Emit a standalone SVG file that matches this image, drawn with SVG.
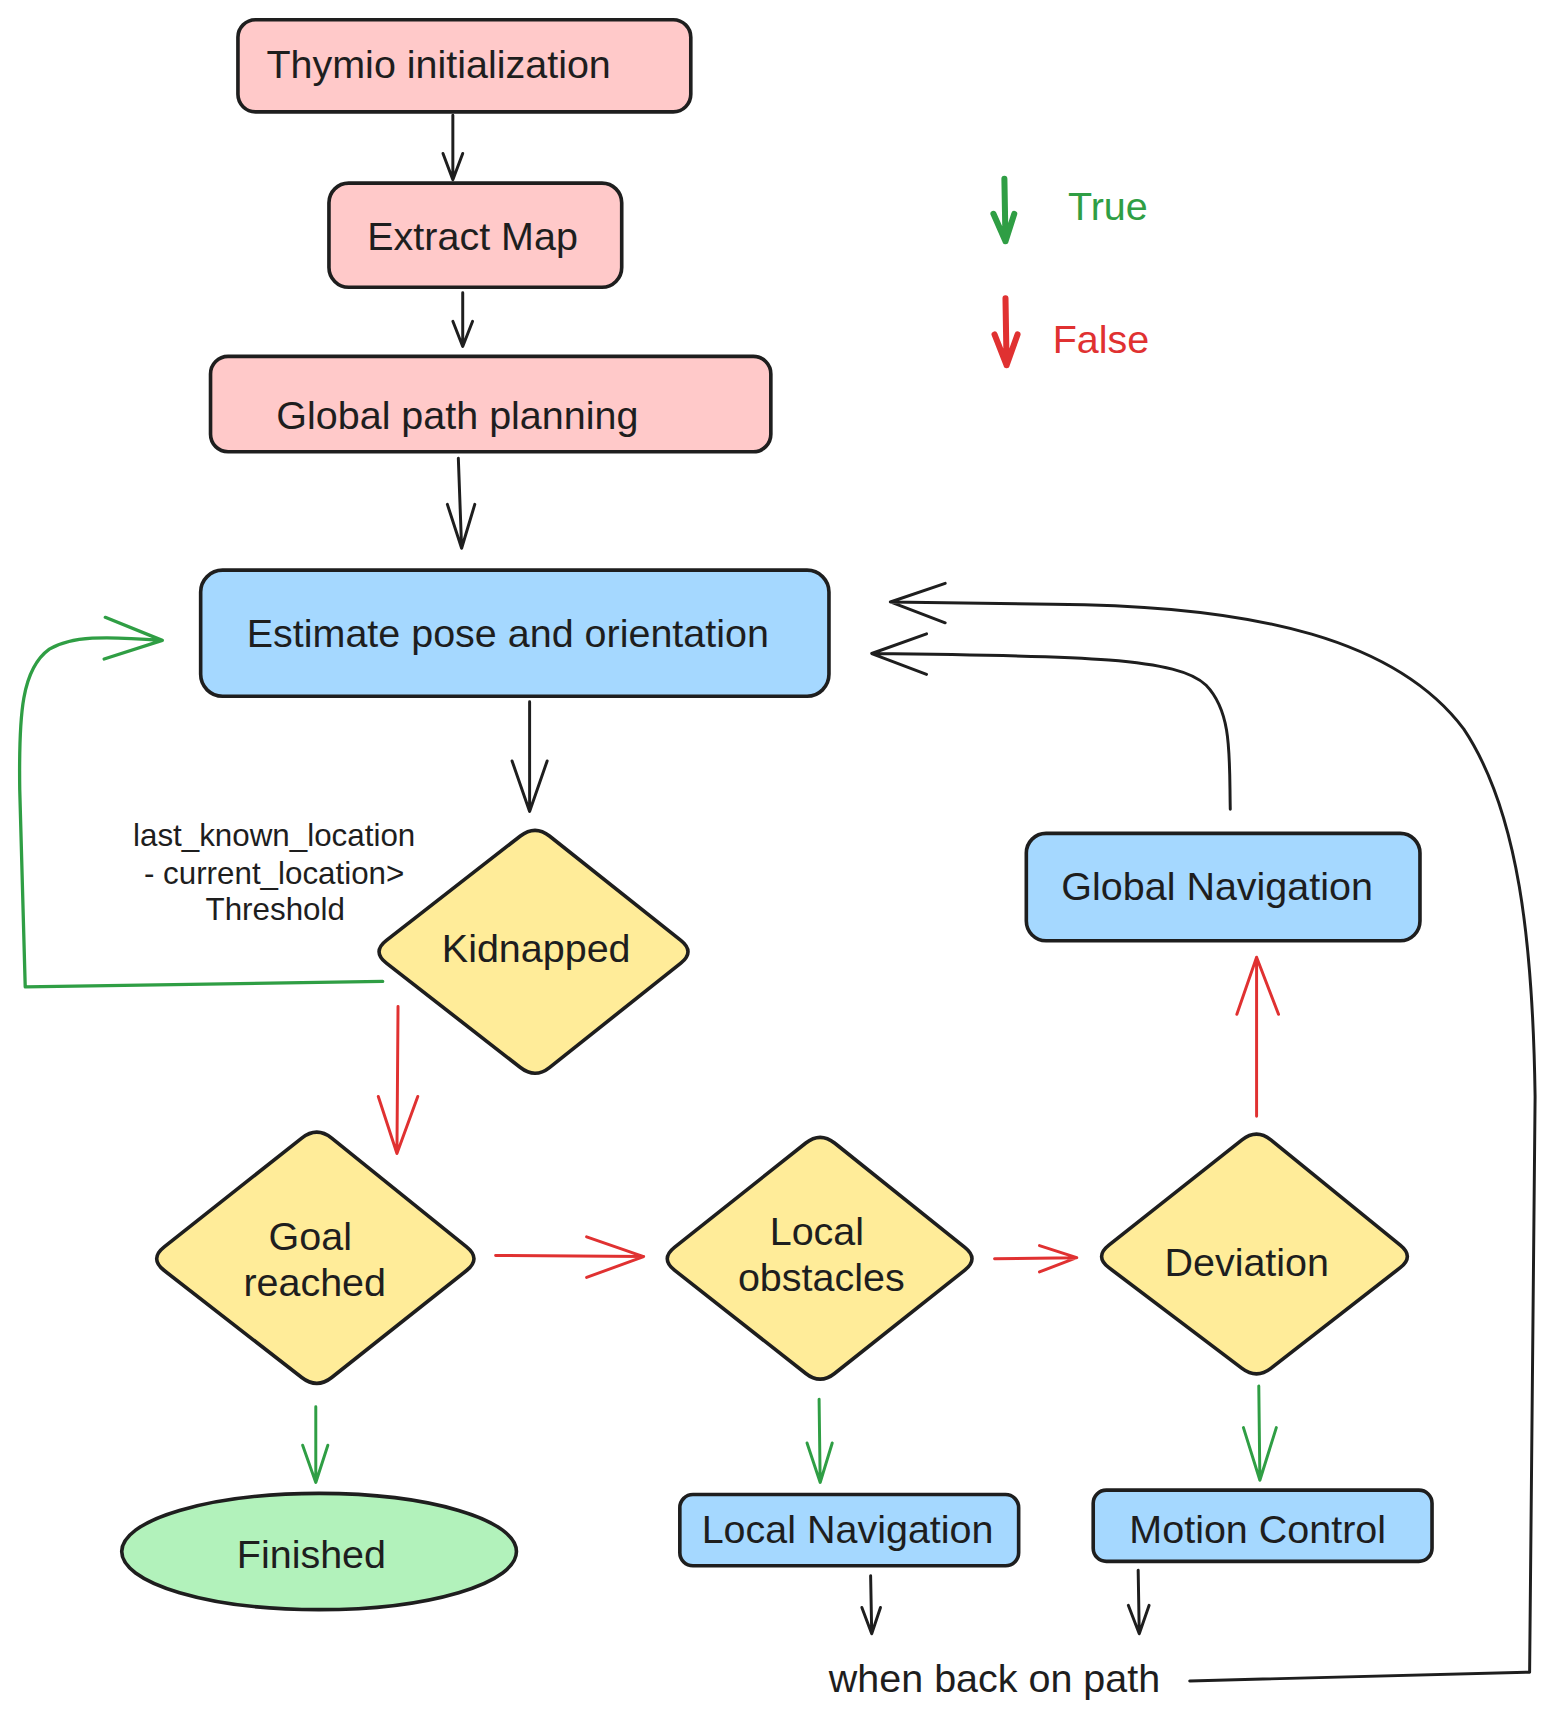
<svg xmlns="http://www.w3.org/2000/svg" width="1557" height="1720" viewBox="0 0 1557 1720">
<style>
text{font-family:"Liberation Sans",Arial,Helvetica,sans-serif;font-size:36px;fill:#1e1e1e}
.mid{text-anchor:middle}
.note{font-size:28.6px}
.box{stroke:#1e1e1e;stroke-width:3.3;stroke-linejoin:round}
.pink{fill:#ffc9c9}.blue{fill:#a5d8ff}.yel{fill:#ffec99}.grn{fill:#b2f2bb}
.c{fill:none;stroke-width:2.7;stroke-linecap:round;stroke-linejoin:round}
.k{stroke:#1e1e1e}.g{stroke:#2f9e44}.r{stroke:#e03131}
</style>
<rect width="1557" height="1720" fill="#ffffff"/>
<g transform="scale(1.0965)">
<g id="thymio-init"><rect class="box pink" x="217" y="18" width="413" height="84" rx="16"/><text x="243" y="71">Thymio initialization</text></g>
<g id="extract-map"><rect class="box pink" x="300" y="167" width="267" height="95" rx="18"/><text class="mid" x="431" y="228">Extract Map</text></g>
<g id="global-path"><rect class="box pink" x="192" y="325" width="511" height="87" rx="16"/><text x="252" y="391">Global path planning</text></g>
<g id="estimate"><rect class="box blue" x="183" y="520" width="573" height="115" rx="20"/><text x="225" y="590">Estimate pose and orientation</text></g>
<g id="kidnapped"><path class="box yel" d="M501.1,762.4 L620.9,857.6 Q634,868 620.9,878.4 L501.1,973.6 Q488,984 474.6,973.6 L352.4,878.4 Q339,868 352.4,857.6 L474.6,762.4 Q488,752 501.1,762.4 Z"/><text class="mid" x="489" y="877">Kidnapped</text></g>
<g id="goal-reached"><path class="box yel" d="M302.5,1037.9 L425.5,1137.1 Q439,1148 425.5,1158.7 L302.5,1256.3 Q289,1267 275.2,1256.3 L149.8,1158.7 Q136,1148 149.8,1137.1 L275.2,1037.9 Q289,1027 302.5,1037.9 Z"/><text class="mid" x="283" y="1140">Goal</text><text class="mid" x="287" y="1182">reached</text></g>
<g id="local-obstacles"><path class="box yel" d="M761.1,1042.4 L879.9,1137.6 Q893,1148 879.9,1158.4 L761.1,1252.6 Q748,1263 734.9,1252.6 L615.1,1158.4 Q602,1148 615.1,1137.6 L734.9,1042.4 Q748,1032 761.1,1042.4 Z"/><text class="mid" x="745" y="1135">Local</text><text class="mid" x="749" y="1177">obstacles</text></g>
<g id="deviation"><path class="box yel" d="M1159,1039.5 L1277,1135.5 Q1290,1146 1277,1156.1 L1159,1247.9 Q1146,1258 1132.7,1247.9 L1011.3,1156.1 Q998,1146 1011.3,1135.5 L1132.7,1039.5 Q1146,1029 1159,1039.5 Z"/><text class="mid" x="1137" y="1164">Deviation</text></g>
<g id="global-navigation"><rect class="box blue" x="936" y="760" width="359" height="98" rx="18"/><text class="mid" x="1110" y="821">Global Navigation</text></g>
<g id="finished"><ellipse class="box grn" cx="291" cy="1415" rx="180" ry="53"/><text class="mid" x="284" y="1430">Finished</text></g>
<g id="local-navigation"><rect class="box blue" x="620" y="1363" width="309" height="65" rx="12"/><text class="mid" x="773" y="1407">Local Navigation</text></g>
<g id="motion-control"><rect class="box blue" x="997" y="1359" width="309" height="65" rx="12"/><text class="mid" x="1147" y="1407">Motion Control</text></g>
<g id="back-on-path"><text class="mid" x="907" y="1543">when back on path</text></g>
<g id="kidnap-note"><text class="mid note" x="250" y="772">last_known_location</text><text class="mid note" x="250" y="806">- current_location&gt;</text><text class="mid note" x="251" y="839">Threshold</text></g>
<g id="legend">
<path class="c g" style="stroke-width:5.5" d="M916,163 L917,220 M906,195 L917,220 L925,195"/>
<text x="974" y="201" style="fill:#2f9e44">True</text>
<path class="c r" style="stroke-width:5.5" d="M917,272 L918,333 M907,305 L918,333 L928,305"/>
<text x="960" y="322" style="fill:#e03131">False</text>
</g>
<g id="connectors">
<path class="c k" d="M413,105 L413,164 M404,140 L413,164 L422,140"/>
<path class="c k" d="M422,267 L422,316 M413,293 L422,316 L431,293"/>
<path class="c k" d="M418,418 L421,500 M408,460 L421,500 L433,460"/>
<path class="c k" d="M483,640 L483,740 M467,694 L483,740 L499,694"/>
<path class="c g" style="stroke-width:3" d="M349,895 L23,900 L18,720 C17,650 20,610 45,592 C65,580 95,580 148,584 M96,563 L148,584 L95,601"/>
<path class="c r" d="M363,918 L362,1052 M345,1000 L362,1052 L381,1000"/>
<path class="c r" d="M452,1145 L587,1146 M535,1128 L587,1146 L535,1165"/>
<path class="c r" d="M907,1148 L982,1147 M948,1136 L982,1147 L948,1160"/>
<path class="c r" d="M1146,1018 L1146,873 M1128,925 L1146,873 L1166,925"/>
<path class="c g" d="M288,1283 L288,1352 M276,1318 L288,1352 L299,1318"/>
<path class="c g" d="M747,1276 L748,1352 M736,1316 L748,1352 L759,1316"/>
<path class="c g" d="M1148,1264 L1149,1350 M1134,1302 L1149,1350 L1164,1302"/>
<path class="c k" d="M794,1437 L795,1490 M786,1466 L795,1490 L803,1466"/>
<path class="c k" d="M1038,1432 L1039,1490 M1029,1464 L1039,1490 L1048,1464"/>
<path class="c k" d="M1122,738 C1121,690 1124,650 1100,625 C1075,600 990,598 795,596 M845,578 L795,596 L845,615"/>
<path class="c k" d="M1085,1533 L1395,1525 L1400,1000 C1398,860 1385,740 1335,665 C1275,585 1150,552 960,551 L812,549 M862,532 L812,549 L862,568"/>
</g>
</g>
</svg>
